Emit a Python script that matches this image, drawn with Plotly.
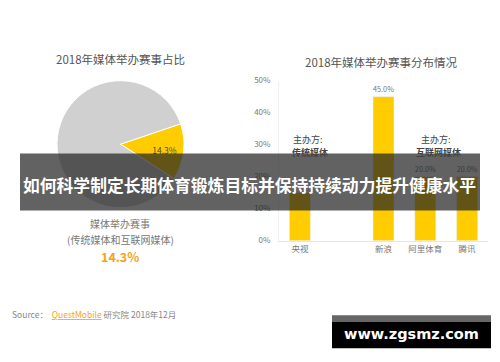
import plotly.graph_objects as go

W, H = 500, 362

# ---- data ----
pie_labels = ["媒体举办赛事", "其他"]
pie_values = [14.3, 85.7]
pie_text = ["14.3%", ""]

bar_categories = ["央视", "新浪", "阿里体育", "腾讯"]
bar_values = [15.0, 45.0, 20.0, 20.0]
bar_labels = ["", "45.0%", "20.0%", "20.0%"]  # 央视 label hidden under banner in reference
axis_categories = ["央视", " ", "新浪", "阿里体育", "腾讯"]
y_ticks = [0, 10, 20, 30, 40, 50]
y_tick_labels = ["0%", "10%", "20%", "30%", "40%", "50%"]

YELLOW = "#ffcc00"
GRAY = "#d0d0d0"
CJK = "Noto Sans CJK SC"


def px(x, y):
    return x / W, 1 - y / H


fig = go.Figure()

fig.add_trace(go.Pie(
    labels=pie_labels, values=pie_values, text=pie_text,
    textinfo="text", sort=False, direction="clockwise", rotation=71.3,
    marker=dict(colors=[YELLOW, GRAY], line=dict(color="white", width=1)),
    textposition="inside", insidetextorientation="horizontal",
    textfont=dict(family=CJK, size=8.5, color="#4a4a4a"),
    domain=dict(x=[55 / W, 186 / W], y=[1 - 208 / H, 1 - 77 / H]),
    showlegend=False, hoverinfo="skip",
))

fig.add_trace(go.Bar(
    x=bar_categories, y=bar_values,
    text=bar_labels, textposition="outside",
    textfont=dict(family=CJK, size=8.5, color="#777"),
    marker=dict(color=YELLOW), cliponaxis=False,
    showlegend=False, hoverinfo="skip",
))

fig.update_layout(
    width=W, height=H, margin=dict(l=0, r=0, t=0, b=0),
    paper_bgcolor="white", plot_bgcolor="white",
    bargap=0.5,
    xaxis=dict(domain=[279 / W, 488 / W], type="category",
               categoryorder="array", categoryarray=axis_categories,
               range=[-0.5, 4.5], showline=True, linecolor="#e6e6e6", linewidth=1,
               showgrid=False, ticks="", zeroline=False,
               tickfont=dict(family=CJK, size=8.5, color="#777")),
    yaxis=dict(domain=[1 - 242 / H, 1 - 77 / H], range=[0, 50],
               tickvals=y_ticks, ticktext=y_tick_labels,
               showline=True, linecolor="#f0f0f0", linewidth=1,
               showgrid=False, zeroline=False, ticks="", ticklabelstandoff=6,
               tickfont=dict(family=CJK, size=8, color="#777")),
)

ann = []


def text(x, y, s, size, color="#555", xanchor="center", family=CJK):
    ax, ay = px(x, y)
    ann.append(dict(x=ax, y=ay, xref="paper", yref="paper", text=s, showarrow=False,
                    xanchor=xanchor, yanchor="middle",
                    font=dict(family=family, size=size, color=color)))


text(120, 55, "2018年媒体举办赛事占比", 11.5, "#555")
text(381, 57.5, "2018年媒体举办赛事分布情况", 11.5, "#555")
text(120, 224, "媒体举办赛事", 10, "#777")
text(120, 240.5, "(传统媒体和互联网媒体)", 10, "#777")
text(120, 258.5, "<b>14.3%</b>", 12.5, "#f7a21b")
text(308, 138, "主办方:", 9, "#444")
text(310, 151.5, "<b>传统媒体</b>", 9, "#444")
text(436, 138, "主办方:", 9, "#444")
text(438, 151.5, "<b>互联网媒体</b>", 9, "#444")
text(10, 318, "Source：  <span style='color:#f7a21b'><u>QuestMobile</u></span> 研究院 2018年12月",
     8.5, "#888", xanchor="left")

shapes = [
    dict(type="rect", xref="paper", yref="paper", layer="above",
         x0=20 / W, x1=480 / W, y0=1 - 211 / H, y1=1 - 152 / H,
         fillcolor="rgba(32,32,32,0.7)", line=dict(width=0)),
    dict(type="rect", xref="paper", yref="paper", layer="above",
         x0=332 / W, x1=491 / W, y0=1 - 326 / H, y1=1 - 319 / H,
         fillcolor="#666666", line=dict(width=0)),
    dict(type="rect", xref="paper", yref="paper", layer="above",
         x0=332 / W, x1=491 / W, y0=1 - 353 / H, y1=1 - 326 / H,
         fillcolor="#000000", line=dict(width=0)),
]

text(249, 185, "<b>如何科学制定长期体育锻炼目标并保持持续动力提升健康水平</b>", 16.8, "white")
text(411, 338, "<b>www.zgsmz.com</b>", 14.5, "white", family="DejaVu Sans")

fig.update_layout(annotations=ann, shapes=shapes)

fig.write_html(
    "out.html",
    config={"displayModeBar": False},
    post_script="document.body.style.margin='0';document.body.style.overflow='hidden';",
)
